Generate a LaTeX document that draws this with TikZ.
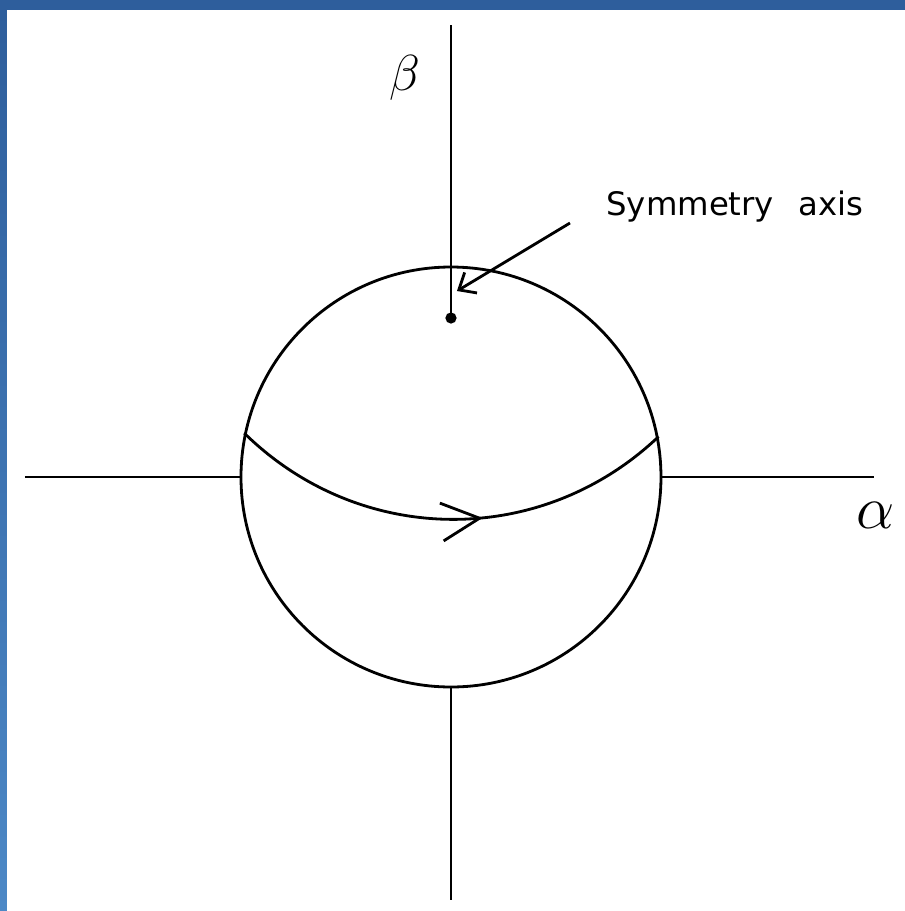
\documentclass[tikz,border=0pt]{standalone}
\usepackage{fontspec}
\newfontfamily\letterfont{DejaVu Sans}
\usetikzlibrary{arrows.meta,decorations.markings}
\definecolor{frameblue}{RGB}{46,94,156}
\definecolor{framelight}{RGB}{76,136,198}
\begin{document}
\begin{tikzpicture}[>=stealth, line width=0.8pt]
\useasboundingbox (-4.51,-4.34) rectangle (4.54,4.77);
% frame
\fill[frameblue] (-4.51,4.67) rectangle (4.54,4.77);
\shade[top color=frameblue, bottom color=framelight] (-4.51,-4.34) rectangle (-4.44,4.67);
% sphere and axes
\node[draw, circle, minimum size=4.2cm, inner sep=0pt] (ball) at (0,0) {};
\coordinate (xl) at (-4.26,0);
\coordinate (xr) at (4.23,0);
\coordinate (yt) at (0,4.52);
\coordinate (yb) at (0,-4.23);
\coordinate (dot) at (0,1.59);
\draw (xl) -- (ball.west);
\draw (ball.east) -- (xr);
\draw (yt) -- (dot);
\draw (ball.south) -- (yb);
\fill (dot) circle (1.6pt);
\node[font=\Large] (beta) at (-0.46,3.99) {$\beta$};
\node[font=\LARGE] (alpha) at (4.25,-0.38) {$\alpha$};
% path on the sphere
\draw[postaction={decorate}, decoration={markings, mark=at position 0.57 with {\arrow{Straight Barb[length=3.8mm,width=3.8mm]}}}] (ball.168.7) to[bend right=44] (ball.11.8);
% label
\node[font=\letterfont\fontsize{9.2}{11}\selectfont, anchor=west, inner sep=0pt] (lbl) at (1.54,2.70) {Symmetry\hspace{0.75em}axis};
\coordinate (ptr) at (1.19,2.54);
\coordinate (tip) at (0.06,1.86);
\draw[-{Straight Barb[length=1.4mm,width=2.4mm]}] (ptr) -- (tip);
\end{tikzpicture}
\end{document}
